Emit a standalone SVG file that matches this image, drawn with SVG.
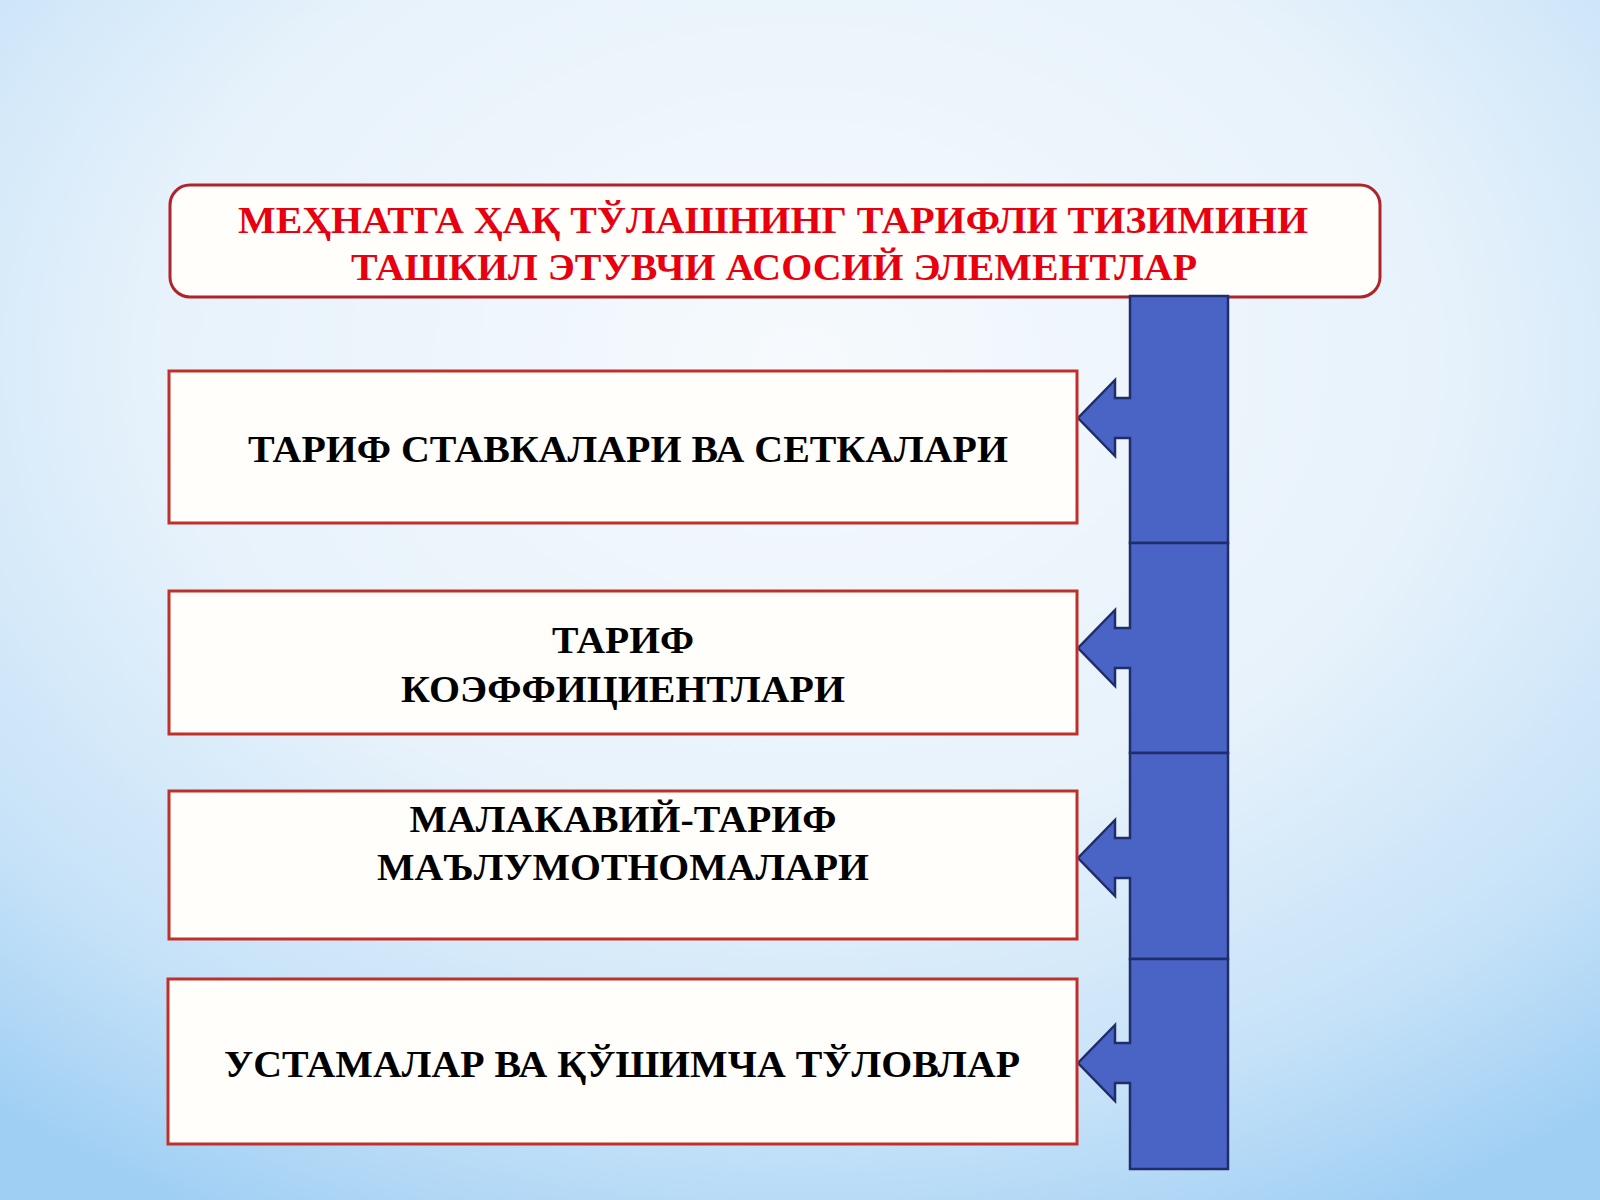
<svg xmlns="http://www.w3.org/2000/svg" width="1600" height="1200" viewBox="0 0 1600 1200">
<defs>
<radialGradient id="bg" cx="50%" cy="30%" r="80%">
<stop offset="0" stop-color="#f6fafd"/>
<stop offset="0.5" stop-color="#e7f2fb"/>
<stop offset="0.8" stop-color="#c6e2f8"/>
<stop offset="1" stop-color="#a0cff4"/>
</radialGradient>
<style>
.box{fill:#fffefb;stroke:#c0302a;stroke-width:3}
.title{fill:#fffefb;stroke:#b0232a;stroke-width:3}
.seg{fill:#4a64c6;stroke:#1f2d6b;stroke-width:2.5;stroke-linejoin:miter}
.t{font-family:"Liberation Serif","Times New Roman",serif;font-weight:bold;font-size:37px;text-anchor:middle;fill:#000}
.tr{font-family:"Liberation Serif","Times New Roman",serif;font-weight:bold;font-size:37px;text-anchor:middle;fill:#e8000f}
</style>
</defs>
<rect width="1600" height="1200" fill="url(#bg)"/>
<g id="title">
<rect class="title" x="170" y="185" width="1210" height="112" rx="20"/>
<text class="tr" x="773" y="233" textLength="1070" lengthAdjust="spacingAndGlyphs">МЕҲНАТГА ҲАҚ ТЎЛАШНИНГ ТАРИФЛИ ТИЗИМИНИ</text>
<text class="tr" x="774" y="280" textLength="846" lengthAdjust="spacingAndGlyphs">ТАШКИЛ ЭТУВЧИ АСОСИЙ ЭЛЕМЕНТЛАР</text>
</g>
<g id="connectors">
<path class="seg" d="M1130,296 H1228 V543 H1130 V438 H1115 V456 L1078,418 L1115,380 V398 H1130 Z"/>
<path class="seg" d="M1130,543 H1228 V753 H1130 V668 H1115 V686 L1078,648 L1115,610 V628 H1130 Z"/>
<path class="seg" d="M1130,753 H1228 V959 H1130 V878 H1115 V896 L1078,858 L1115,820 V838 H1130 Z"/>
<path class="seg" d="M1130,959 H1228 V1169 H1130 V1083 H1115 V1101 L1078,1063 L1115,1025 V1043 H1130 Z"/>
</g>
<g id="node1">
<rect class="box" x="169" y="371" width="908" height="152"/>
<text class="t" x="628" y="462" textLength="760" lengthAdjust="spacingAndGlyphs">ТАРИФ СТАВКАЛАРИ ВА СЕТКАЛАРИ</text>
</g>
<g id="node2">
<rect class="box" x="169" y="591" width="908" height="143"/>
<text class="t" x="623" y="653" textLength="142" lengthAdjust="spacingAndGlyphs">ТАРИФ</text>
<text class="t" x="623" y="702" textLength="444" lengthAdjust="spacingAndGlyphs">КОЭФФИЦИЕНТЛАРИ</text>
</g>
<g id="node3">
<rect class="box" x="169" y="791" width="908" height="148"/>
<text class="t" x="623" y="832" textLength="427" lengthAdjust="spacingAndGlyphs">МАЛАКАВИЙ-ТАРИФ</text>
<text class="t" x="623" y="880" textLength="492" lengthAdjust="spacingAndGlyphs">МАЪЛУМОТНОМАЛАРИ</text>
</g>
<g id="node4">
<rect class="box" x="168" y="979" width="909" height="165"/>
<text class="t" x="622" y="1077" textLength="796" lengthAdjust="spacingAndGlyphs">УСТАМАЛАР ВА ҚЎШИМЧА ТЎЛОВЛАР</text>
</g>
</svg>
